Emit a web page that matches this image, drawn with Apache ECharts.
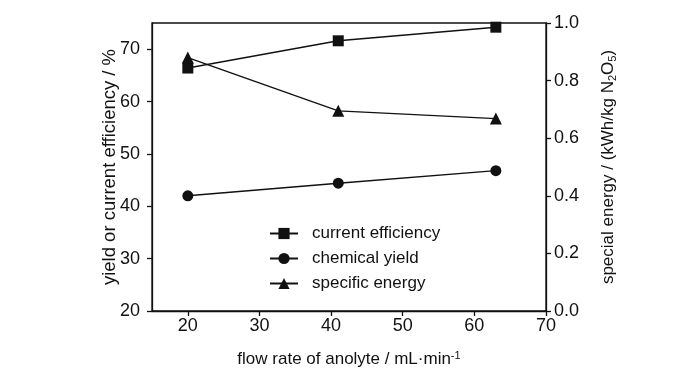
<!DOCTYPE html>
<html>
<head>
<meta charset="utf-8">
<script src="https://cdn.jsdelivr.net/npm/echarts@6/dist/echarts.min.js"></script>
<style>html,body{margin:0;padding:0;background:#fff}#c{width:700px;height:373px}</style>
</head>
<body>
<div id="c"></div>
<script>
const flowRate = [20, 41, 63];
const currentEfficiency = [66.4, 71.6, 74.2];
const chemicalYield = [42.0, 44.4, 46.8];
const specificEnergy = [0.88, 0.695, 0.668];
const xTicks = [20, 30, 40, 50, 60, 70];
const leftTicks = [20, 30, 40, 50, 60, 70];
const rightTicks = [0.0, 0.2, 0.4, 0.6, 0.8, 1.0];

const FONT = 'Liberation Sans';
const ink = '#111';
const pairs = (xs, ys) => xs.map((x, i) => [x, ys[i]]);

const chart = echarts.init(document.getElementById('c'), null, {renderer: 'canvas'});
const axisLine = {show: true, lineStyle: {color: ink, width: 1.3}};
chart.setOption({
  animation: false,
  backgroundColor: '#fff',
  textStyle: {fontFamily: FONT, color: ink},
  grid: {left: 152, right: 154, top: 23, bottom: 59, show: true, borderColor: ink, borderWidth: 1.3, backgroundColor: 'transparent'},
  legend: {
    orient: 'vertical', left: 264, top: 220, itemGap: 8, itemWidth: 28, itemHeight: 14,
    textStyle: {fontFamily: FONT, fontSize: 17, color: ink, padding: [0, 0, 0, 9]},
    data: ['current efficiency', 'chemical yield', 'specific energy']
  },
  xAxis: {
    type: 'value', min: 15, max: 70,
    name: '{t|flow rate of anolyte / mL·min}{s|-1}', nameLocation: 'middle', nameGap: 39, nameMoveOverlap: false,
    nameTextStyle: {rich: {t: {fontFamily: FONT, fontSize: 17, color: ink}, s: {fontFamily: FONT, fontSize: 11, color: ink, verticalAlign: 'top', padding: [0, 0, 8, 0]}}},
    axisLine: axisLine,
    axisTick: {show: true, inside: false, length: 5, lineStyle: {color: ink, width: 1.3}, customValues: xTicks},
    axisLabel: {fontFamily: FONT, fontSize: 18, color: ink, margin: 6, customValues: xTicks},
    splitLine: {show: false}
  },
  yAxis: [{
    type: 'value', min: 20, max: 75, position: 'left',
    name: 'yield or current efficiency / %', nameLocation: 'middle', nameGap: 33, nameMoveOverlap: false,
    nameTextStyle: {fontFamily: FONT, fontSize: 18.5, color: ink},
    axisLine: axisLine,
    axisTick: {show: true, length: 5, lineStyle: {color: ink, width: 1.3}, customValues: leftTicks},
    axisLabel: {fontFamily: FONT, fontSize: 18, color: ink, margin: 12, customValues: leftTicks},
    splitLine: {show: false}
  }, {
    type: 'value', min: 0, max: 1, position: 'right',
    name: '{t|special energy / (kWh/kg N}{s|2}{t|O}{s|5}{t|)}', nameLocation: 'middle', nameGap: 53, nameMoveOverlap: false,
    nameTextStyle: {rich: {t: {fontFamily: FONT, fontSize: 17, color: ink}, s: {fontFamily: FONT, fontSize: 11, color: ink, padding: [8, 0, 0, 0]}}},
    axisLine: axisLine,
    axisTick: {show: true, length: 5, lineStyle: {color: ink, width: 1.3}, customValues: rightTicks},
    axisLabel: {fontFamily: FONT, fontSize: 18, color: ink, margin: 8, customValues: rightTicks, formatter: v => v.toFixed(1)},
    splitLine: {show: false}
  }],
  series: [{
    name: 'current efficiency', type: 'line', yAxisIndex: 0,
    data: pairs(flowRate, currentEfficiency),
    symbol: 'rect', symbolSize: 11,
    lineStyle: {color: ink, width: 1.4}, itemStyle: {color: ink}
  }, {
    name: 'chemical yield', type: 'line', yAxisIndex: 0,
    data: pairs(flowRate, chemicalYield),
    symbol: 'circle', symbolSize: 11,
    lineStyle: {color: ink, width: 1.4}, itemStyle: {color: ink}
  }, {
    name: 'specific energy', type: 'line', yAxisIndex: 1,
    data: pairs(flowRate, specificEnergy),
    symbol: 'triangle', symbolSize: 12,
    lineStyle: {color: ink, width: 1.4}, itemStyle: {color: ink}
  }]
});
</script>
</body>
</html>
